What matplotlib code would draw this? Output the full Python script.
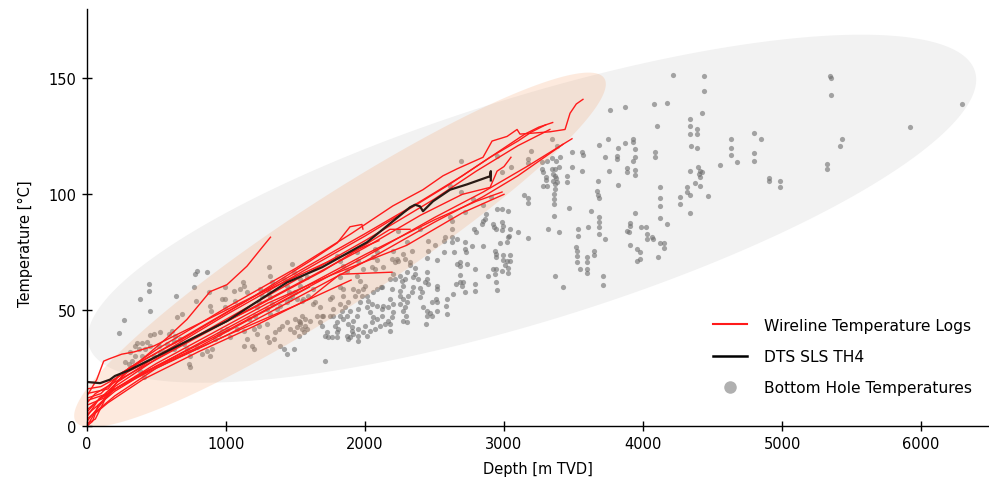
import numpy as np
import matplotlib
matplotlib.use("Agg")
import matplotlib.pyplot as plt
from matplotlib.lines import Line2D
from matplotlib.patches import Rectangle

plt.rcParams["font.family"] = "DejaVu Sans"

# ----- bottom hole temperatures (depth m TVD, temperature degC)
bht_points = [
    (791, 66.8), (777, 65.5), (863, 66.4), (446, 61.2), (446, 58.2), (381, 54.7), (453, 49.6), (640, 56), (266, 45.7), (230, 40.1),
    (770, 59.9), (878, 57.8), (993, 59.9), (1122, 62.1), (1129, 60.3), (784, 53.9), (885, 51.7), (892, 49.6), (971, 54.7), (993, 54.7),
    (993, 51.3), (1065, 53.9), (683, 48.3), (647, 47), (525, 40.5), (482, 39.7), (453, 39.2), (590, 39.7), (611, 40.9), (633, 38.8),
    (360, 35.8), (396, 35.8), (345, 34.5), (432, 36.2), (453, 34.5), (417, 33.2), (374, 33.2), (309, 31.9), (345, 30.2), (396, 30.2),
    (482, 30.2), (554, 31.9), (626, 33.2), (273, 27.6), (302, 26.7), (324, 28), (381, 23.7), (410, 21.1), (518, 34.5), (525, 31.9),
    (576, 35.3), (626, 36.6), (669, 37.5), (698, 35.3), (719, 33.2), (741, 30.2), (734, 26.7), (741, 25.4), (791, 34), (827, 31),
    (863, 32.3), (885, 30.2), (899, 33.2), (921, 37.5), (950, 39.7), (971, 40.9), (1007, 41.8), (1029, 38.4), (1079, 41.8), (1129, 40.9),
    (1151, 37.5), (1187, 34.5), (1201, 33.2), (1223, 39.7), (1129, 34.5), (1201, 41.8), (1237, 43.1), (1295, 44), (1295, 38.4), (1309, 36.2),
    (1345, 37.5), (1352, 40.5), (1381, 41.8), (1403, 43.1), (1439, 44.8), (1460, 41.8), (1489, 40.5), (1511, 42.7), (1532, 44), (1561, 40.5),
    (1583, 41.8), (1295, 50.4), (1316, 48.3), (1367, 50.4), (1388, 51.7), (1439, 53.4), (1460, 54.7), (1475, 56), (1511, 54.7), (1547, 53.9),
    (1309, 68.5), (1316, 64.7), (1331, 62.1), (1309, 57.8), (1316, 55.6), (1331, 52.6), (1417, 63.4), (1439, 60.3), (1475, 69.8), (1489, 66.4),
    (1453, 57.8), (1496, 57.8), (1532, 60.3), (1532, 63.4), (1525, 45.3), (1532, 44.8), (1496, 46.1), (1388, 34.5), (1417, 33.2), (1439, 31),
    (1489, 33.2), (1525, 38.8), (1223, 51.3), (1237, 53.4), (1259, 56), (1245, 59), (1058, 58.2), (1101, 59), (1151, 57.8), (1209, 47.4),
    (1165, 46.1),
    (2691, 100.9), (2719, 92.2), (2626, 84.9), (2575, 81.5), (2568, 79.7), (2626, 81.5), (2626, 79.3), (2662, 80.6), (2719, 79.3), (2719, 76.3),
    (2727, 75), (2453, 79.7), (2503, 78), (2446, 72.4), (2518, 71.5), (2568, 75), (2640, 75), (2683, 70.7), (2683, 69), (2662, 69.8),
    (2734, 69.8), (2683, 65.1), (2683, 62.1), (2705, 62.1), (2698, 60.3), (2719, 57.8), (2655, 61.2), (2633, 56.9), (2590, 54.7), (2583, 51.7),
    (2518, 60.3), (2518, 59), (2511, 54.7), (2446, 66.4), (2446, 63.4), (2453, 61.2), (2432, 62.1), (2360, 68.1), (2360, 65.5), (2381, 63.4),
    (2345, 64.2), (2396, 59.5), (2410, 57.8), (2396, 55.6), (2417, 51.3), (2446, 49.6), (2446, 47.4), (2468, 48.7), (2439, 44), (2482, 53.4),
    (2518, 53.4), (2324, 69.4), (2302, 66.4), (2288, 63.4), (2345, 59.9), (2338, 57.8), (2309, 56), (2302, 53.4), (2252, 64.7), (2266, 62.5),
    (2273, 60.3), (2252, 58.2), (2252, 56), (2273, 54.7), (2252, 52.6), (2288, 51.3), (2273, 49.6), (2295, 47.4), (2273, 45.3), (2194, 72),
    (2216, 70.7), (2237, 71.1), (2201, 65.5), (2180, 63.4), (2216, 63.4), (2194, 59), (2180, 54.7), (2201, 52.6), (2165, 51.3), (2201, 49.1),
    (2194, 47), (2129, 68.5), (2115, 59.9), (2129, 51.7), (2122, 47.4), (2050, 68.5), (2072, 67.7), (2086, 71.5), (2014, 56), (2022, 53.9),
    (2050, 52.6), (2014, 51.3), (2036, 49.1), (2058, 47), (2086, 46.1), (2050, 44.8), (2000, 43.1), (2036, 40.9), (1978, 56), (1964, 53.4),
    (1950, 50.4), (1942, 47.4), (1914, 45.3), (1906, 42.7), (1950, 41.8), (1878, 53.4), (1856, 51.3), (1892, 49.6), (1870, 47.4), (1842, 46.1),
    (1878, 44), (1834, 49.6), (1820, 47.4), (1799, 44.8), (1806, 41.8), (1914, 39.7), (1892, 38.4), (1906, 40.9), (1950, 38.8), (1986, 40.5),
    (2014, 38.8), (2072, 41.8), (2108, 43.1), (2144, 44), (2165, 45.3), (1784, 43.1), (1727, 40.5), (1712, 38.8), (1734, 38.4), (1763, 38.4),
    (1691, 43.1), (1748, 47.4), (1698, 47.4), (1799, 38.4), (1799, 40.5), (1712, 28), (1870, 38.8), (1878, 37.5), (1950, 36.6), (2086, 51.7),
    (2122, 50.4), (2180, 40.9), (2180, 44), (2122, 59.9), (2302, 44.8), (2518, 49.6), (2482, 47.4), (2590, 48.3), (2086, 59), (2058, 57.8),
    (2000, 60.3), (1986, 59), (1950, 58.2), (1914, 59), (1928, 56), (1942, 64.7), (1986, 67.7), (1964, 62.5), (1842, 59), (1842, 56),
    (1820, 52.6), (1770, 50.4), (1770, 47.4), (1748, 54.7), (1676, 44.8), (1604, 45.3), (1568, 43.1), (1547, 41.8), (1547, 47.4), (1568, 46.1),
    (1820, 59.9), (1763, 55.6), (1626, 59), (1583, 64.2), (1590, 56), (1554, 54.7), (1640, 53.4), (1626, 52.6), (1676, 51.3), (1655, 47.4),
    (1691, 47.4), (1842, 69), (1870, 66.8), (1820, 64.2), (1799, 73.3), (1820, 71.1), (1942, 75), (1950, 71.1), (2072, 76.3), (2086, 75),
    (2058, 72.8), (2201, 75.4), (2230, 72), (2273, 74.1), (2288, 72), (2302, 79.3), (2324, 70.7), (2237, 84), (2338, 75.4), (2396, 84.9),
    (2611, 90.1), (2626, 88.4), (2453, 75.4), (2691, 114.6), (2611, 103.4),
    (3345, 123.7), (3194, 118.5), (2950, 116.4), (3173, 115.1), (3173, 113.4), (3050, 111.6), (2986, 109.5), (3273, 113.8), (3273, 110.8), (3280, 109.5),
    (3309, 114.6), (3345, 115.5), (3374, 114.6), (3403, 115.9), (3381, 120.7), (3345, 110.8), (3367, 110.8), (3396, 111.6), (3352, 108.6), (3367, 107.8),
    (3374, 106.9), (3352, 105.6), (3381, 105.2), (3367, 104.3), (3367, 102.1), (3360, 100), (3360, 97.8), (3360, 95.7), (3302, 107.3), (3302, 106),
    (3280, 103.4), (3309, 103.4), (3453, 107.8), (3453, 105.2), (3489, 118.1), (3561, 118.1), (3568, 116.8), (3489, 111.6), (3561, 109.9), (3144, 99.6),
    (3173, 98.3), (3173, 96.1), (3467, 94), (3360, 90.5), (3316, 84.9), (3396, 83.6), (3173, 81), (3101, 83.6), (3626, 92.7), (3683, 121.1),
    (3676, 105.6), (3669, 101.3), (3676, 99.6), (3683, 98.3), (3604, 85.8), (3683, 90.1), (3683, 87.9), (3683, 85.8), (3683, 82.8), (3532, 84.9),
    (3532, 81.9), (3518, 77.1), (3525, 75.4), (3525, 73.3), (3525, 70.7), (3547, 67.7), (3597, 72.8), (3597, 70.7), (3597, 67.7), (3597, 65.9),
    (3647, 75.4), (3647, 73.7), (3367, 64.7), (3424, 59.9), (2986, 93.5), (3029, 92.7), (2870, 91.4), (2863, 89.2), (2849, 88.4), (2842, 87.1),
    (2950, 93.5), (2921, 87.1), (2928, 85.8), (2942, 84.9), (2986, 87.9), (2993, 86.2), (2986, 84.5), (3043, 84.9), (3036, 81.9), (3029, 81.5),
    (3022, 79.3), (2784, 84.9), (2799, 83.6), (2971, 78.9), (2849, 77.6), (2770, 77.6), (2935, 75.4), (2942, 74.1), (2942, 72.8), (2993, 73.7),
    (2993, 71.5), (3022, 71.1), (3043, 73.7), (3043, 71.1), (3007, 69.4), (2986, 66.8), (3029, 68.1), (3029, 65.9), (2921, 67.7), (2942, 67.7),
    (2935, 65.5), (2885, 64.7), (2942, 62.1), (2950, 58.6), (2791, 67.7), (2791, 61.2), (2791, 58.2), (2906, 98.7), (2849, 95.2), (2777, 97.8),
    (4216, 151.7), (4439, 150.9), (4439, 144.8), (4424, 134.9), (4079, 138.8), (4173, 139.6), (3870, 137.5), (3763, 136.6), (5345, 150.9), (5352, 150),
    (5352, 142.7), (6295, 138.8), (5921, 128.9), (5431, 123.7), (5417, 120.7), (5324, 112.9), (5324, 110.8), (4798, 126.3), (4849, 124.1), (4798, 117.7),
    (4798, 114.6), (4633, 124.1), (4633, 119.8), (4633, 116.8), (4676, 113.8), (4554, 112.5), (4906, 106.9), (4906, 105.6), (4985, 105.6), (4985, 103),
    (4338, 132.7), (4338, 129.7), (4338, 125.9), (4388, 128), (4388, 125.9), (4345, 120.7), (4388, 119.8), (4101, 129.7), (4086, 118.1), (4086, 115.9),
    (3928, 124.1), (3928, 122.8), (3942, 119.4), (3942, 115.9), (3928, 114.6), (3870, 122), (3820, 119.8), (3813, 116.4), (3813, 115.1), (3726, 115.9),
    (3748, 124.1), (3885, 111.2), (3885, 109.5), (3942, 110.3), (3942, 108.2), (3755, 109.9), (3820, 103.9), (4396, 111.6), (4410, 109.9), (4403, 108.6),
    (4410, 107.3), (4424, 109.5), (4338, 109.9), (4374, 104.7), (4410, 103.4), (4316, 103), (4316, 100.9), (4338, 99.6), (4467, 99.1), (4266, 98.7),
    (4266, 95.7), (4338, 91.8), (4122, 103), (4122, 98.3), (4122, 94.8), (4122, 89.6), (4173, 87.1), (3942, 91.8), (3906, 87.5), (3906, 86.2),
    (3885, 84), (3899, 83.6), (3986, 85.8), (4021, 85.8), (4029, 82.8), (4065, 81.5), (4072, 80.6), (4029, 80.6), (3906, 78), (3957, 76.3),
    (3978, 75), (3957, 71.1), (3978, 72), (4122, 78.9), (4151, 78.9), (4151, 76.7), (4108, 72.8), (3726, 80.6), (3712, 64.7), (3712, 60.8),
]

# ----- wireline temperature logs: (depth, temperature) vertices per well
wireline_logs = [
    [(0, 10), (60, 14), (230, 20), (400, 29), (575, 38), (719, 46), (885, 58), (1007, 61), (1151, 69), (1245, 76), (1320, 81.5)],
    [(0, 11), (150, 14), (300, 25), (700, 38), (1200, 56), (1600, 71), (1800, 79), (1892, 86), (1978, 87), (1985, 85)],
    [(0, 0), (50, 5), (150, 10), (400, 20), (800, 32), (1200, 43), (1600, 55), (1820, 65.5), (2194, 66.4)],
    [(0, 12), (100, 14), (230, 22), (500, 33), (1000, 51), (1500, 68), (1900, 83), (2200, 95), (2417, 102), (2561, 108),
     (2662, 111), (2849, 116), (2914, 123), (3022, 125), (3094, 128), (3115, 126), (3331, 127), (3439, 128), (3475, 135),
     (3520, 139), (3568, 141)],
    [(0, 6), (60, 10), (220, 19), (500, 30), (1000, 48), (1500, 65), (2000, 82), (2300, 93), (2600, 104), (2900, 116),
     (3100, 123), (3200, 127), (3300, 130)],
    [(0, 14), (150, 16), (250, 23), (600, 35), (1000, 49), (1500, 66), (2000, 83), (2400, 97), (2700, 108), (3000, 120),
     (3150, 126), (3250, 129), (3350, 131)],
    [(0, 2), (80, 8), (200, 17), (500, 29), (1000, 46), (1500, 63), (2000, 80), (2500, 98), (2800, 110), (3100, 121), (3330, 128)],
    [(0, 9), (120, 12), (230, 20), (600, 32), (1000, 45), (1500, 61), (2000, 77), (2400, 91), (2700, 100), (2900, 103),
     (2950, 110), (3000, 112), (3050, 116)],
    [(0, 4), (90, 12), (200, 16), (600, 29), (1000, 42), (1500, 58), (2000, 74), (2500, 89), (2800, 97), (2986, 101)],
    [(0, 5), (200, 15), (500, 26), (1000, 41), (1500, 57), (2000, 73), (2500, 90), (2850, 101), (3165, 112), (3489, 124)],
    [(0, 3), (200, 13), (500, 25), (1000, 39), (1500, 55), (2000, 71), (2500, 88), (2850, 99), (3100, 108), (3424, 121.6)],
    [(0, 16), (100, 17), (250, 22), (700, 36), (1200, 51), (1700, 67), (2180, 84.9), (2324, 84.9)],
    [(0, 7), (100, 12), (230, 17), (600, 28), (1000, 39), (1500, 52), (1900, 63)],
    [(0, 1), (60, 3), (150, 14), (400, 23), (800, 34), (1200, 47), (1600, 60)],
    [(0, 13), (70, 20), (120, 28), (160, 29), (250, 31), (340, 32), (480, 34.5), (800, 44), (1200, 56), (1700, 70), (2100, 80)],
    [(0, 0), (40, 2), (80, 9), (200, 16), (500, 27), (900, 40), (1300, 53), (1750, 65), (2300, 78), (2700, 92), (3000, 100)],
]

# ----- DTS fibre log SLS TH4
dts_depth = [0, 94, 165, 201, 300, 500, 1007, 1439, 1690, 2014, 2324, 2360, 2396, 2417, 2489, 2612, 2734, 2899, 2905, 2905]
dts_temp = [19, 18.5, 20, 21.6, 24, 30, 45.3, 62, 68.5, 79.3, 94.4, 95.5, 94.8, 92.7, 97, 102, 104.3, 107.8, 110, 106]

# ----- shaded envelopes: centre and two conjugate half-axes (data units)
bht_env_centre = (3201, 93.8)
bht_env_axes = [(3187, 59.3), (239, -46.1)]
log_env_centre = (1820, 76.0)
log_env_axes = [(1901, 74.1), (208, -19.2)]

xticks = [0, 1000, 2000, 3000, 4000, 5000, 6000]
yticks = [0, 50, 100, 150]


def envelope(centre, axes, n=300):
    t = np.linspace(0, 2 * np.pi, n)
    (ax1, ay1), (ax2, ay2) = axes
    return (centre[0] + ax1 * np.cos(t) + ax2 * np.sin(t),
            centre[1] + ay1 * np.cos(t) + ay2 * np.sin(t))


fig = plt.figure(figsize=(9.89, 4.85), dpi=100)
ax = fig.add_axes([87 / 989, 58 / 485, 902 / 989, 417 / 485])
above_axis = Rectangle((-1000, 0), 9000, 300, transform=ax.transData)

for p in ax.fill(*envelope(bht_env_centre, bht_env_axes), color="#f2f2f2", lw=0, zorder=0):
    p.set_clip_path(above_axis)

bht = np.array(bht_points)
ax.scatter(bht[:, 0], bht[:, 1], s=14, color="#6e6e6e", alpha=0.6, lw=0, zorder=1)

for p in ax.fill(*envelope(log_env_centre, log_env_axes), color=(0.96, 0.6, 0.37), alpha=0.2, lw=0, zorder=2):
    p.set_clip_path(above_axis)

for log in wireline_logs:
    d, T = zip(*log)
    ax.plot(d, T, color="#ff1a1a", lw=1.0, zorder=3)

ax.plot(dts_depth, dts_temp, color="#2a1a14", lw=1.6, zorder=4)

ax.set_xlim(0, 6489)
ax.set_ylim(0, 180)
ax.set_xticks(xticks)
ax.set_yticks(yticks)
for s in ("top", "right"):
    ax.spines[s].set_visible(False)
for s in ("left", "bottom"):
    ax.spines[s].set_linewidth(1.0)
    ax.spines[s].set_zorder(5)
ax.tick_params(direction="inout", length=7, width=1.0, labelsize=10.5, pad=4)
ax.set_xlabel("Depth [m TVD]", fontsize=10.5, labelpad=7)
ax.set_ylabel("Temperature [°C]", fontsize=10.5)
ax.yaxis.set_label_coords(-0.060, 0.44)

handles = [
    Line2D([], [], color="#ff1a1a", lw=1.5),
    Line2D([], [], color="black", lw=1.8),
    Line2D([], [], color="#b0b0b0", marker="o", ls="", markersize=8),
]
labels = ["Wireline Temperature Logs", "DTS SLS TH4", "Bottom Hole Temperatures"]
ax.legend(handles, labels, loc="lower right", bbox_to_anchor=(0.997, 0.04), frameon=False,
          fontsize=11.2, handlelength=2.2, handletextpad=1.1, labelspacing=1.05)

fig.savefig("out.png", dpi=100)
